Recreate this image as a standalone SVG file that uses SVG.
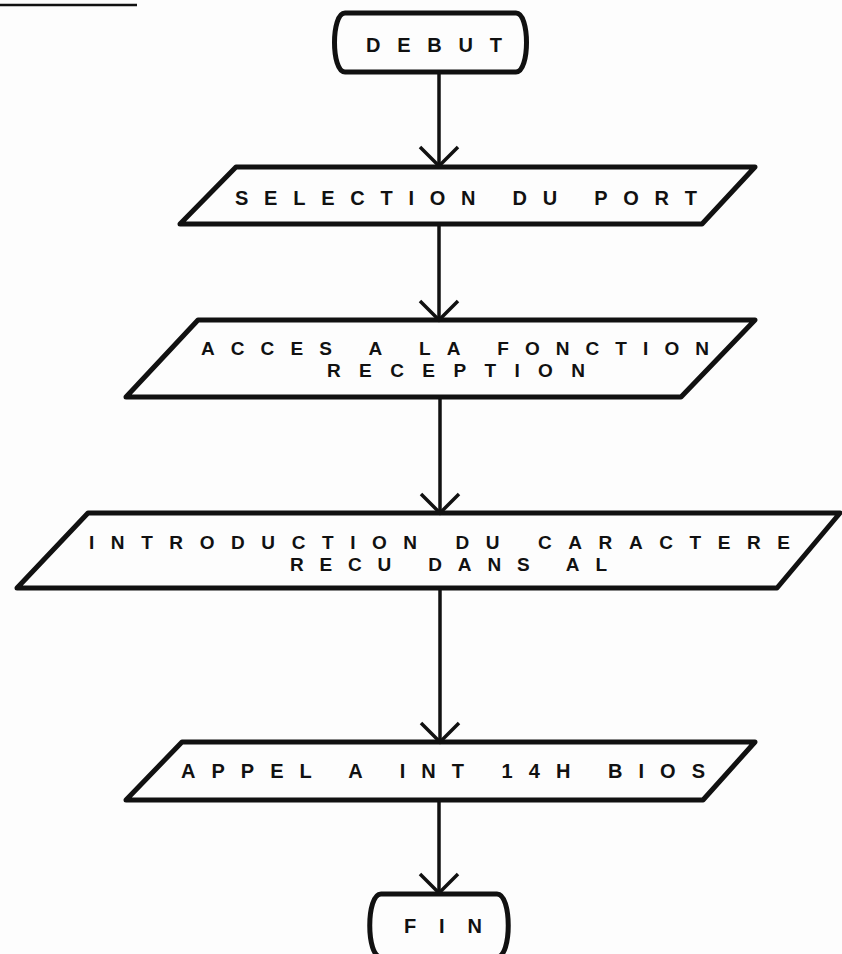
<svg xmlns="http://www.w3.org/2000/svg" width="842" height="954" viewBox="0 0 842 954">
<style>
.bg{fill:#fdfdfd}
.box{fill:none;stroke:#111;stroke-width:5;stroke-linejoin:round}
.conn{fill:none;stroke:#111;stroke-width:3.5}
.t{font-family:"Liberation Sans",Arial,sans-serif;font-size:20px;font-weight:bold;fill:#111}
.t2{font-family:"Liberation Sans",Arial,sans-serif;font-size:19px;font-weight:bold;fill:#111}
</style>
<defs>
<marker id="arr" markerUnits="userSpaceOnUse" viewBox="-22 -22 26 44" markerWidth="26" markerHeight="44" refX="0" refY="0" orient="auto" overflow="visible">
<path d="M -19,-19 L 0,0 L -19,19" fill="none" stroke="#111" stroke-width="3.5"/>
</marker>
</defs>
<rect class="bg" x="0" y="0" width="842" height="954"/>
<line x1="0" y1="5" x2="137" y2="5" stroke="#111" stroke-width="2.5"/>
<g id="connectors">
<line class="conn" x1="439" y1="72" x2="439" y2="166" marker-end="url(#arr)"/>
<line class="conn" x1="439" y1="224" x2="439" y2="320" marker-end="url(#arr)"/>
<line class="conn" x1="440" y1="397" x2="440" y2="513" marker-end="url(#arr)"/>
<line class="conn" x1="440" y1="588" x2="440" y2="742" marker-end="url(#arr)"/>
<line class="conn" x1="439" y1="800" x2="439" y2="893" marker-end="url(#arr)"/>
</g>
<g id="debut">
<path class="box" d="M 345,13 H 516 C 530,13 530,72 516,72 H 345 C 331,72 331,13 345,13 Z"/>
<text class="t" x="366" y="52" textLength="136" lengthAdjust="spacing">DEBUT</text>
</g>
<g id="selection">
<polygon class="box" points="236,167 755,167 702,224 180,224"/>
<text class="t" x="235" y="205" textLength="462" lengthAdjust="spacing">SELECTION DU PORT</text>
</g>
<g id="acces">
<polygon class="box" points="198,320 755,320 681,397 126,397"/>
<text class="t2" x="201" y="355" textLength="508" lengthAdjust="spacing">ACCES A LA FONCTION</text>
<text class="t2" x="327" y="377" textLength="258" lengthAdjust="spacing">RECEPTION</text>
</g>
<g id="introduction">
<polygon class="box" points="88,513 840,513 777,588 17,588"/>
<text class="t2" x="89" y="549" textLength="701" lengthAdjust="spacing">INTRODUCTION DU CARACTERE</text>
<text class="t2" x="290" y="571" textLength="317" lengthAdjust="spacing">RECU DANS AL</text>
</g>
<g id="appel">
<polygon class="box" points="182,742 755,742 703,800 126,800"/>
<text class="t" x="181" y="778" textLength="524" lengthAdjust="spacing">APPEL A INT 14H BIOS</text>
</g>
<g id="fin">
<path class="box" d="M 381,894 H 497 C 512,894 512,957 497,957 H 381 C 366,957 366,894 381,894 Z"/>
<text class="t" x="404" y="933" textLength="78" lengthAdjust="spacing">FIN</text>
</g>
</svg>
